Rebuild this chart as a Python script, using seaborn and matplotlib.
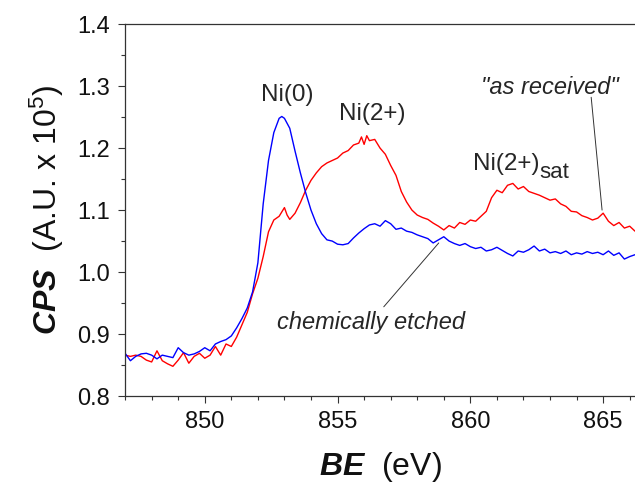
import numpy as np
import pandas as pd
import matplotlib
matplotlib.use("Agg")
import matplotlib.pyplot as plt
import seaborn as sns
from matplotlib.ticker import MultipleLocator, FormatStrFormatter

sns.set_style("ticks")
plt.rcParams['font.family'] = ['Liberation Sans', 'DejaVu Sans']
plt.rcParams['mathtext.fontset'] = 'custom'
plt.rcParams['mathtext.rm'] = 'Liberation Sans'
plt.rcParams['mathtext.it'] = 'Liberation Sans:italic'
plt.rcParams['mathtext.bf'] = 'Liberation Sans:bold'
plt.rcParams['mathtext.bfit'] = 'Liberation Sans:bold:italic'

# chemically etched (blue)
be_etched = [847.0, 847.2, 847.4, 847.6, 847.8, 848.0, 848.2, 848.4, 848.6, 848.8,
             849.0, 849.2, 849.4, 849.6, 849.8, 850.0, 850.2, 850.4, 850.6, 850.8,
             851.0, 851.2, 851.4, 851.6, 851.8, 852.0, 852.2, 852.4, 852.6, 852.8,
             852.9, 853.0, 853.2, 853.4, 853.6, 853.8, 854.0, 854.2, 854.4, 854.6,
             854.8, 855.0, 855.2, 855.4, 855.6, 855.8, 856.0, 856.2, 856.4, 856.6,
             856.8, 857.0, 857.2, 857.4, 857.6, 857.8, 858.0, 858.2, 858.4, 858.6,
             858.8, 859.0, 859.2, 859.4, 859.6, 859.8, 860.0, 860.2, 860.4, 860.6,
             860.8, 861.0, 861.2, 861.4, 861.6, 861.8, 862.0, 862.2, 862.4, 862.6,
             862.8, 863.0, 863.2, 863.4, 863.6, 863.8, 864.0, 864.2, 864.4, 864.6,
             864.8, 865.0, 865.2, 865.4, 865.6, 865.8, 866.0, 866.2]
cps_etched = [0.869, 0.857, 0.864, 0.868, 0.869, 0.866, 0.860, 0.866, 0.864, 0.862,
              0.878, 0.870, 0.866, 0.868, 0.872, 0.878, 0.873, 0.884, 0.888, 0.891,
              0.897, 0.910, 0.925, 0.942, 0.968, 1.015, 1.110, 1.180, 1.225, 1.248,
              1.251, 1.248, 1.232, 1.195, 1.160, 1.128, 1.100, 1.078, 1.062, 1.052,
              1.050, 1.045, 1.044, 1.046, 1.055, 1.063, 1.070, 1.076, 1.078, 1.074,
              1.083, 1.078, 1.069, 1.071, 1.066, 1.064, 1.060, 1.057, 1.054, 1.047,
              1.052, 1.057, 1.050, 1.046, 1.043, 1.046, 1.041, 1.038, 1.040, 1.034,
              1.036, 1.040, 1.035, 1.030, 1.026, 1.034, 1.032, 1.036, 1.042, 1.034,
              1.037, 1.031, 1.033, 1.030, 1.034, 1.028, 1.031, 1.029, 1.033, 1.030,
              1.032, 1.028, 1.034, 1.027, 1.031, 1.021, 1.025, 1.028]

# "as received" (red)
be_received = [847.0, 847.2, 847.4, 847.6, 847.8, 848.0, 848.2, 848.4, 848.6, 848.8,
               849.0, 849.2, 849.4, 849.6, 849.8, 850.0, 850.2, 850.4, 850.6, 850.8,
               851.0, 851.2, 851.4, 851.6, 851.8, 852.0, 852.2, 852.4, 852.6, 852.8,
               853.0, 853.1, 853.2, 853.4, 853.6, 853.8, 854.0, 854.2, 854.4, 854.6,
               854.8, 855.0, 855.2, 855.4, 855.6, 855.8, 855.9, 856.0, 856.1, 856.2,
               856.4, 856.6, 856.8, 857.0, 857.2, 857.4, 857.6, 857.8, 858.0, 858.2,
               858.4, 858.6, 858.8, 859.0, 859.2, 859.4, 859.6, 859.8, 860.0, 860.2,
               860.4, 860.6, 860.8, 861.0, 861.2, 861.4, 861.6, 861.8, 862.0, 862.2,
               862.4, 862.6, 862.8, 863.0, 863.2, 863.4, 863.6, 863.8, 864.0, 864.2,
               864.4, 864.6, 864.8, 865.0, 865.2, 865.4, 865.6, 865.8, 866.0, 866.2]
cps_received = [0.866, 0.864, 0.866, 0.864, 0.858, 0.855, 0.873, 0.857, 0.852, 0.848,
                0.858, 0.870, 0.853, 0.864, 0.869, 0.861, 0.866, 0.880, 0.866, 0.884,
                0.880, 0.895, 0.915, 0.935, 0.965, 0.990, 1.025, 1.065, 1.084, 1.090,
                1.104, 1.092, 1.085, 1.095, 1.112, 1.132, 1.148, 1.160, 1.170, 1.176,
                1.180, 1.184, 1.192, 1.196, 1.205, 1.208, 1.218, 1.206, 1.220, 1.212,
                1.214, 1.200, 1.190, 1.172, 1.156, 1.130, 1.113, 1.100, 1.092, 1.088,
                1.085, 1.079, 1.074, 1.068, 1.075, 1.071, 1.080, 1.077, 1.084, 1.082,
                1.090, 1.098, 1.120, 1.132, 1.128, 1.140, 1.143, 1.134, 1.138, 1.130,
                1.127, 1.124, 1.120, 1.116, 1.118, 1.110, 1.106, 1.098, 1.097, 1.091,
                1.088, 1.084, 1.087, 1.095, 1.082, 1.075, 1.080, 1.071, 1.074, 1.066]

df_e = pd.DataFrame({"BE": be_etched, "CPS": cps_etched})
df_r = pd.DataFrame({"BE": be_received, "CPS": cps_received})

fig = plt.figure(figsize=(6.35, 4.92), dpi=100)
ax = fig.add_axes([0.197, 0.195, 0.803, 0.756])

sns.lineplot(data=df_r, x="BE", y="CPS", color="#ff0000", lw=1.0, ax=ax)
sns.lineplot(data=df_e, x="BE", y="CPS", color="#0000ff", lw=1.0, ax=ax)

ax.set_xlim(847.0, 866.2)
ax.set_ylim(0.8, 1.4)
ax.xaxis.set_major_locator(MultipleLocator(5))
ax.xaxis.set_minor_locator(MultipleLocator(1))
ax.yaxis.set_major_locator(MultipleLocator(0.1))
ax.yaxis.set_minor_locator(MultipleLocator(0.05))
ax.yaxis.set_major_formatter(FormatStrFormatter('%.1f'))
ax.tick_params(which='major', direction='out', length=5, width=0.8, labelsize=17,
               colors='#333333', labelcolor='#111111', pad=6)
ax.tick_params(which='minor', direction='out', length=3, width=0.8, colors='#333333')
ax.spines['right'].set_visible(False)
for s in ['left', 'bottom', 'top']:
    ax.spines[s].set_linewidth(0.9)
    ax.spines[s].set_color('#333333')

ax.set_xlabel(r'$\mathbfit{BE}$  (eV)', fontsize=23, labelpad=12, color='#111111')
ax.set_ylabel(r'$\mathbfit{CPS}$  (A.U. x 10$^{5}$)', fontsize=23, labelpad=8, color='#111111')

ax.text(853.1, 1.286, "Ni(0)", fontsize=17.5, ha='center', va='center')
ax.text(856.3, 1.255, "Ni(2+)", fontsize=17.5, ha='center', va='center')
ax.text(860.1, 1.1645, "Ni(2+)", fontsize=17.5, ha='left', va='baseline')
ax.text(862.58, 1.151, "sat", fontsize=16, ha='left', va='baseline')

ax.text(863.0, 1.298, '"as received"', fontsize=17, style='italic', ha='center', va='center')
ax.annotate('', xy=(864.96, 1.100), xytext=(864.55, 1.282),
            arrowprops=dict(arrowstyle='-', color='#333333', lw=0.7, shrinkA=0, shrinkB=0))
ax.text(856.25, 0.918, 'chemically etched', fontsize=17, style='italic', ha='center', va='center')
ax.annotate('', xy=(858.81, 1.047), xytext=(856.74, 0.944),
            arrowprops=dict(arrowstyle='-', color='#333333', lw=0.7, shrinkA=0, shrinkB=0))

fig.savefig("out.png", dpi=100)
